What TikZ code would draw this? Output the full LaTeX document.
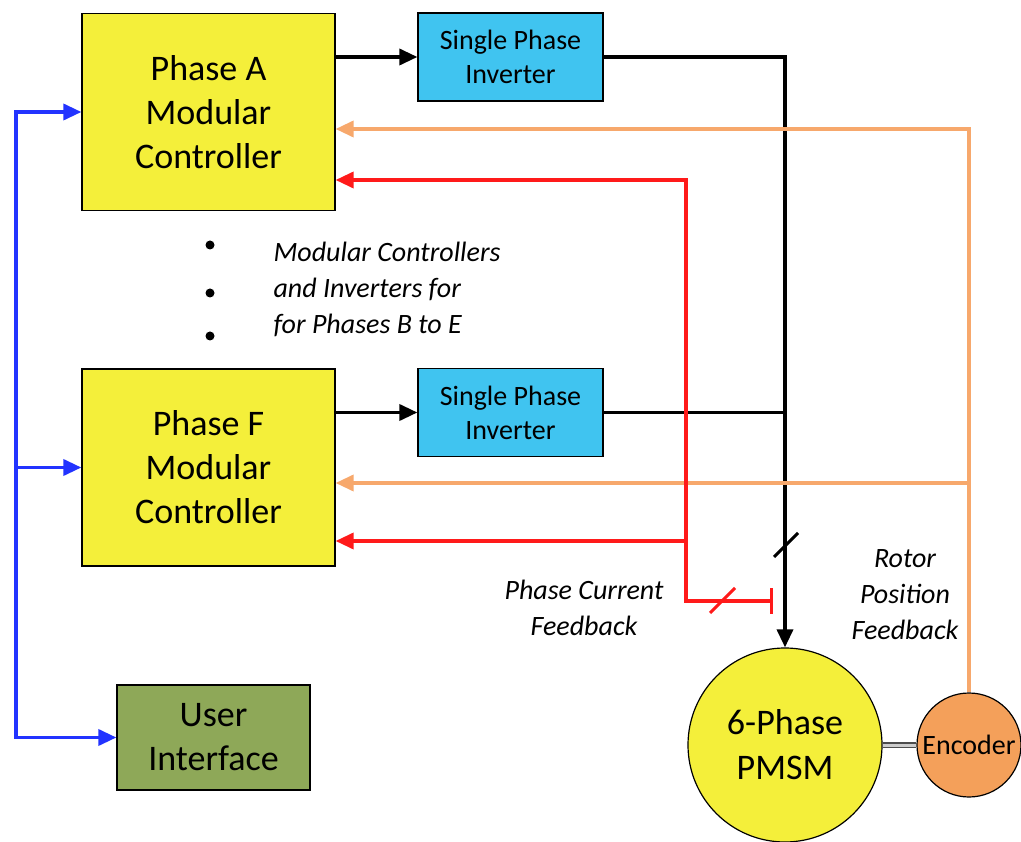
\documentclass[tikz,border=0pt]{standalone}
\usepackage{fontspec}
\setmainfont{Carlito}
\usetikzlibrary{arrows.meta}

\definecolor{ctrlyellow}{RGB}{244,239,58}
\definecolor{invblue}{RGB}{64,196,240}
\definecolor{uigreen}{RGB}{142,168,88}
\definecolor{encorange}{RGB}{244,160,90}
\definecolor{fborange}{RGB}{247,168,108}
\definecolor{fbred}{RGB}{255,26,26}
\definecolor{uiblue}{RGB}{34,51,255}

\tikzset{
  ctrl/.style={rectangle, draw, line width=1.2pt, fill=ctrlyellow, minimum width=253pt, minimum height=197pt, align=center, font=\fontsize{36}{44}\selectfont},
  inv/.style={rectangle, draw, line width=1.2pt, fill=invblue, minimum width=185pt, minimum height=88pt, align=center, font=\fontsize{28}{34}\selectfont},
  uibox/.style={rectangle, draw, line width=1.2pt, fill=uigreen, minimum width=193pt, minimum height=105pt, align=center, font=\fontsize{36}{44}\selectfont},
  motor/.style={circle, draw, line width=1.2pt, fill=ctrlyellow, minimum size=194pt, inner sep=0pt, align=center, font=\fontsize{36}{45}\selectfont},
  enc/.style={circle, draw, line width=1.2pt, fill=encorange, minimum size=104pt, inner sep=0pt, font=\fontsize{28}{30}\selectfont},
  note/.style={align=center, font=\itshape\fontsize{28}{36}\selectfont},
  tip/.style={-{Triangle[length=18pt,width=16pt]}},
  power/.style={line width=3.5pt, tip},
  posfb/.style={line width=3.5pt, draw=fborange, tip},
  curfb/.style={line width=3.5pt, draw=fbred, tip},
  uilink/.style={line width=3.5pt, draw=uiblue, tip}
}

\begin{document}
\begin{tikzpicture}[x=1pt, y=-1pt]
  \useasboundingbox[fill=white] (0,0) rectangle (1021,842);

  \node[ctrl] (phA) at (208.5,112) {Phase A\\Modular\\Controller};
  \node[inv] (invA) at (510.5,57) {Single Phase\\Inverter};
  \node[ctrl] (phF) at (208.5,467.5) {Phase F\\Modular\\Controller};
  \node[inv] (invF) at (510.5,412.5) {Single Phase\\Inverter};
  \node[uibox] (ui) at (213.5,737.5) {User\\Interface};
  \node[motor] (pmsm) at (785,745) {6-Phase\\PMSM};
  \node[enc] (enc) at (969,745) {Encoder};

  \fill (210,245) circle (4.5pt);
  \fill (210,293) circle (4.5pt);
  \fill (210,336) circle (4.5pt);
  \node[note, align=left, anchor=west] (dotsnote) at (270,289) {Modular Controllers\\and Inverters for\\for Phases B to E};
  \node[note] (curnote) at (584,608) {Phase Current\\Feedback};
  \node[note] (posnote) at (905,595) {Rotor\\Position\\Feedback};

  \coordinate (ubus) at (16,0);
  \coordinate (cbus) at (686,601);
  \coordinate (ctap) at (773,601);
  \coordinate (fbA) at ([yshift=-17pt]phA.east);
  \coordinate (fbF) at ([yshift=-15.5pt]phF.east);
  \coordinate (cfA) at ([yshift=-68pt]phA.east);
  \coordinate (cfF) at ([yshift=-73.5pt]phF.east);

  \draw[power] (phA.east |- invA.west) -- (invA.west);
  \draw[power] (phF.east |- invF.west) -- (invF.west);
  \draw[power] (invA.east) -| (pmsm.north);
  \draw[line width=3.5pt] (invF.east) -- (invF.east -| pmsm.north);
  \draw[line width=3pt] (774,557) -- (798,533);

  \draw[posfb] (enc.north) |- (fbA);
  \draw[posfb] (fbF -| enc.north) -- (fbF);

  \draw[curfb, {Bar[width=26pt]}-{Triangle[length=18pt,width=16pt]}] (ctap) -- (cbus) |- (cfA);
  \draw[curfb] (cfF -| cbus) -- (cfF);
  \draw[line width=3pt, fbred] (710,613) -- (735,588);

  \draw[uilink, {Triangle[length=18pt,width=16pt]}-{Triangle[length=18pt,width=16pt]}] (ui.west) -| (ubus |- phA.west) -- (phA.west);
  \draw[uilink] (ubus |- phF.west) -- (phF.west);

  \draw[gray!60!black, line width=1.5pt, double=gray!40, double distance=3pt] (pmsm.east) -- (enc.west);
\end{tikzpicture}
\end{document}
